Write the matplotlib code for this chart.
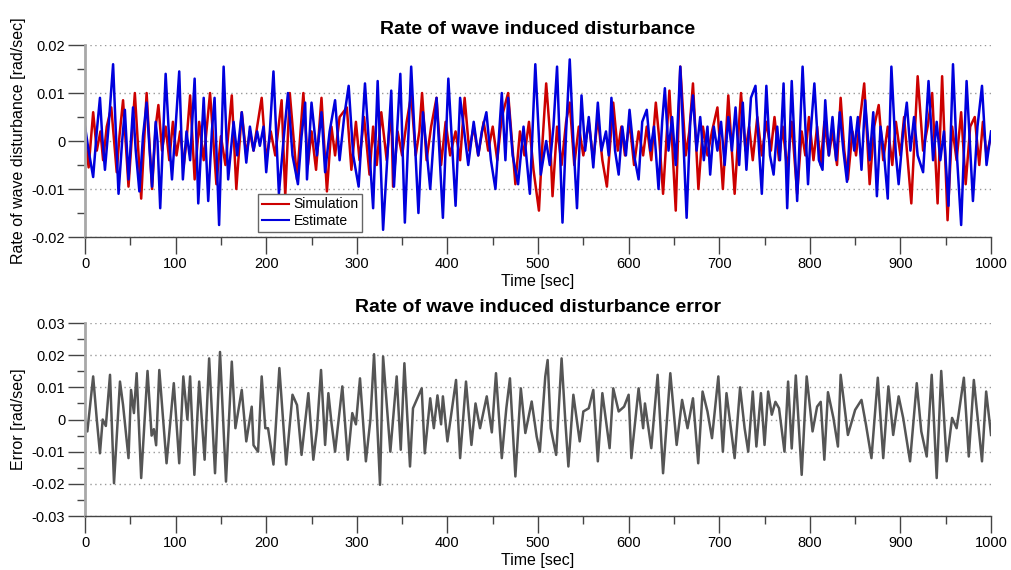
import numpy as np
import matplotlib
matplotlib.use('Agg')
import matplotlib.pyplot as plt
from matplotlib.ticker import MultipleLocator, FuncFormatter

plt.rcParams['font.family'] = ['Liberation Sans', 'DejaVu Sans']
plt.rcParams['axes.unicode_minus'] = False

# simulated rate of wave disturbance, 1e-3 rad/sec
t_sim = [0, 4, 9, 13, 17, 20, 24, 29, 35, 38, 42, 48, 55, 62, 68, 74, 78, 81, 85, 89,
         93, 97, 101, 105, 109, 112, 116, 121, 126, 131, 138, 145, 150, 155, 162, 167, 173, 178, 182, 186,
         190, 195, 200, 205, 210, 217, 221, 226, 234, 241, 246, 250, 255, 261, 267, 272, 276, 281, 289, 294,
         299, 303, 308, 314, 318, 322, 327, 333, 338, 340, 345, 350, 355, 360, 365, 369, 372, 377, 382, 388,
         393, 398, 403, 409, 414, 419, 424, 429, 434, 440, 445, 450, 455, 460, 467, 475, 480, 485, 490, 495,
         501, 505, 509, 513, 516, 521, 526, 531, 535, 540, 545, 550, 556, 561, 566, 571, 576, 583, 588, 592,
         596, 601, 606, 611, 616, 620, 625, 630, 634, 638, 645, 652, 657, 663, 667, 671, 677, 682, 687, 692,
         698, 704, 710, 717, 724, 729, 733, 737, 742, 747, 752, 757, 761, 766, 770, 775, 780, 786, 791, 795,
         799, 804, 808, 812, 816, 821, 825, 830, 834, 838, 842, 847, 851, 855, 860, 866, 871, 876, 881, 886,
         891, 895, 900, 904, 908, 912, 919, 925, 930, 935, 941, 946, 952, 957, 962, 967, 972, 977, 982, 987,
         991, 995, 1000]
sim = [1, -5.5, 6, -2, 2, -4, 3, 7, -6.5, 1, 8.5, -9.5, 10, -12, 10, -10, 3, 7.5, -2, 3,
       -4, 4, -3, 2, -5, 0, 9.5, -8, 4, -4, 10, -9, 1, -5, 9.5, -10, 6, -3, 2, -2,
       3, 9, -4, 2, -3, 8.5, -11.5, 10, -8, 10, -5, 2, -6, 9, -10.5, 3, -3, 5, 7, -6,
       4, -4, 5, -7, 3, -5, 6, -4, 7, -9.5, 2, -3, 4, 9.5, -3, 2, 10, -4, 3, 9,
       -5, 4, -3, 2, -4, 9, -2, 3, -3, 4, -2, 3, -4, 5, 10, -9, 2, -3, 4, -6,
       -14.5, 0, 12, 2, -11.5, 3, -5, 4, 8, -5, 3, -3, 4, -4, 5, -4, -9.5, 8, -2, 3,
       -3, 4, -5, 2, -3, 3, -4, 8, 0, -11, 10.5, -14.5, 15.5, -3, 2, 12, -10, 3, -3, 2,
       7, -10, 9.5, -11, 10, -2, 3, -4, 5, -3, 4, -2, 5, -4, 3, -6, 4, -11, 2, -3,
       5, -4, 3, -5, 4, -3, 2, -5, 9, -2, -8, 2, -3, 4, 12, -9, 3, 7.5, -4, 3,
       -5, 4, -3, 5, -4, -13, 13.5, -2, 3, 10, -13, 13.5, -16.5, 3, -4, 6, -9, 3, 5, -5,
       4, -3, 1]

# estimated rate of wave disturbance, 1e-3 rad/sec
t_est = [0, 4, 9, 13, 16.5, 19, 22, 26, 31, 34, 37, 41, 44, 48, 53, 56, 60, 64, 68, 71,
         74, 78, 80, 83, 89, 93, 96, 100, 104, 108, 112, 116, 121, 125, 131, 136, 140, 143, 148, 153,
         158, 164, 168, 173, 178, 182, 186, 190, 193, 197, 200, 204, 208, 214, 219, 224, 229, 235, 239, 243,
         245, 250, 256, 261, 265, 270, 276, 281, 286, 291, 296, 302, 309, 318, 323, 329, 338, 341, 348, 353,
         360, 368, 373, 381, 388, 395, 401, 409, 414, 423, 429, 434, 438, 443, 448, 453, 460, 464, 467, 472,
         478, 484, 491, 497, 503, 509, 513, 517, 521, 527, 531, 535, 539, 543, 548, 552, 556, 561, 566, 570,
         575, 578, 581, 585, 589, 593, 597, 601, 606, 611, 615, 620, 624, 628, 633, 637, 640, 644, 648, 652,
         657, 664, 668, 671, 675, 679, 683, 687, 690, 694, 698, 702, 706, 710, 714, 718, 722, 726, 730, 735,
         740, 744, 747, 752, 756, 760, 764, 767, 771, 775, 780, 786, 792, 798, 801, 805, 810, 814, 817, 821,
         825, 829, 833, 837, 841, 845, 849, 853, 857, 861, 866, 870, 874, 878, 882, 886, 890, 895, 898, 903,
         907, 911, 915, 919, 925, 931, 936, 940, 944, 948, 953, 958, 962, 967, 973, 977, 980, 985, 990, 995,
         1000]
est = [3, -2, -7.5, 2, 9, 1, -6, 3, 16, 2, -11, 0, 6.5, -8, 7, -2, -10.5, 1, 8, -1,
       -9.5, 4, 0, -14, 14, 0, -8, 3, 14.5, -8, 2, -4, 13, -13, 9, -12.5, 2, 9, -17.5, 15.5,
       -8, 4, -3, 6, -4.5, 3, -2, 2, -1, 3, -6.5, 2, 14.5, -11, 0, 10, -3, -9, 1, 8,
       -8, 8, -3, 6, -6.5, 2, 8.5, -4, 5, 11.5, -3, -9.5, 12, -14, 12.5, -18.5, 10.5, -9.5, 14, -17,
       15.5, -15, 6, -10, 9, -16, 13, -13.5, 9, -5, 4, -3, 2, 6, -4, -10, 10, -4, 9, -3,
       -9, 3, -11, 16, -7, 0, -5, 3, 15.5, -17, 2, 17, 0, -14, 9.5, -2, 5, -5.5, 8, -2,
       2, -3, 9, -2, -7, 3, -3, 6.5, -3, -8, 4, 6.5, -2, 3, -10, 4, 11, -2, 5, -5,
       15.5, -16, 4, 9.5, -2, 5, -4, 3, -7, 3, -2, 4, -5, 5, -2, 7, -5, 8, -6, 9,
       11.5, -2, -11, 11.5, -3, -7, 3, -4, 12, -14, 12.5, -12.5, 15.5, -9, 2, 12, -4, -6, 8.5, -3,
       5, -4, 6, -2, -8.5, 5, -2, 5, -6, 8.5, -4, 6, -11.5, 3, -3, -12, 15.5, -3, -9, 2,
       8, -2, 5, -3, -6.5, 12.5, -4, 4, -4, 2, -13.5, 16, -2, -17.5, 12.5, -2, -12.5, 3, 11.5, -5,
       2]

# estimation error, 1e-3 rad/sec
t_err = [0, 2.6, 9, 13, 16.5, 19.5, 23, 27.6, 32, 38.6, 42, 48, 50.8, 54, 57, 62, 69, 73.5, 76, 78.5,
         82, 90, 98, 104, 108.5, 113, 116, 120.7, 126, 132, 137, 143.5, 149, 155.6, 162, 166, 173, 178, 184, 186,
         191, 195, 199, 202, 208, 214.5, 222, 229, 234, 239, 246.5, 252, 256, 260.5, 265, 268.6, 272, 276, 280, 284,
         290, 295, 299, 303.5, 310, 315, 319, 325.6, 329, 337, 340, 344, 348.5, 352.5, 358.7, 362, 371.6, 375, 381, 385,
         389, 393, 395, 400, 409.5, 414, 420.5, 426.5, 431, 436, 443.4, 449, 453.6, 460, 465, 469, 475, 481, 486, 493,
         498.5, 502, 508, 510.6, 514, 520, 526, 530, 533.5, 539, 546, 550, 556, 561, 566, 571, 579, 583, 589, 595,
         600, 603, 611, 616, 618, 625, 632, 638, 646, 653, 659, 665, 671, 676.8, 681.6, 687, 692, 699, 704, 708,
         717, 723, 728, 732, 737, 741, 746, 750, 754, 758, 762, 766, 772, 776, 780, 784.5, 791, 796.5, 803, 808,
         812, 816, 820, 826, 831, 834, 842, 850, 857, 862, 868, 875, 881, 886.7, 892, 898, 903, 910.6, 918, 923,
         929, 934.5, 940, 945, 951, 957, 962, 970, 975.4, 981, 990, 994.6, 1000]
err = [0, -3.7, 13.4, 0, -10.5, 0, -2, 13.9, -19.8, 11.8, 4.5, -12, 9.2, 2, 14.4, -18.2, 15.1, -5, -3, -8,
       15.4, -13.6, 11.3, -13.6, 13.4, 0, 13.4, -17.2, 11.8, -12.5, 19, -16.7, 21, -19.3, 18, -2.7, 9.2, -6.8, 4, -8,
       -10, 13.4, -2.7, -2.7, -14, 16, -14, 7.7, 4.5, -11, 8.2, -12.5, -3, 15.4, -7.9, 8.2, -1, -10, 0, 10.3,
       -12.5, 2, -1.5, 12.8, -13, 0, 20.3, -20.3, 19.6, -10, 0, 13.4, -9.4, 17.5, -14.6, 3.5, 9.7, -10.5, 6.6, -2.7,
       7.5, -1.5, 7.2, -6.8, 12.3, -12, 11.8, -7.9, 5, -2.7, 7.2, -4, 14.4, -12, 3.5, 12.8, -17.7, 9.7, -4.2, 5.6,
       -5.3, -10, 13.4, 18.5, -2.7, -11, 19, 0, -14.6, 7.7, -6.8, 2.5, 3.5, 9.2, -13, 8.2, -8.9, 9.7, 2.5, 4,
       7.7, -12, 9.7, -2.7, 5, -8.9, 13.9, -16.7, 14.4, -7.9, 6.1, -2.7, 6.6, -13.6, 8.7, 2.5, -5.8, 13.4, -10, 8.2,
       -12, 10, -2.7, -10, 8.7, -8.4, 8.2, -7.9, 8.7, 1.5, 5.5, 3.5, -10, 11.8, -9, 13.7, -17.2, 13.4, -3.7, 4,
       5.5, -12.5, 8.5, 0.5, -8.4, 13.9, -4.8, 3, 6.1, -1.7, -12, 13, -12, 10.3, -4.8, 7.2, 0.5, -13, 11.3, -3.7,
       -11.5, 13.9, -18.2, 15.1, -13, 0.5, -2.7, 13, -11.5, 12.3, -13, 8.7, -4.8]

t_sim, t_est, t_err = np.array(t_sim), np.array(t_est), np.array(t_err)
sim, est, err = np.array(sim) * 1e-3, np.array(est) * 1e-3, np.array(err) * 1e-3

fig = plt.figure(figsize=(10.12, 5.70), dpi=100)
ax1 = fig.add_axes([0.084, 0.5842, 0.8953, 0.3368])
ax2 = fig.add_axes([0.084, 0.0947, 0.8953, 0.3386])

fmt = FuncFormatter(lambda v, p: '%g' % round(v, 4))

for ax, lim in [(ax1, 0.02), (ax2, 0.03)]:
    ax.set_xlim(0, 1000)
    ax.set_ylim(-lim, lim)
    for s in ['top', 'right']:
        ax.spines[s].set_visible(False)
    ax.spines['left'].set_color('#a8a8a8')
    ax.spines['left'].set_linewidth(2)
    ax.spines['bottom'].set_color('#444444')
    ax.spines['bottom'].set_linewidth(1)
    ax.xaxis.set_major_locator(MultipleLocator(100))
    ax.xaxis.set_minor_locator(MultipleLocator(50))
    ax.yaxis.set_major_locator(MultipleLocator(0.01))
    ax.yaxis.set_minor_locator(MultipleLocator(0.005))
    ax.yaxis.set_major_formatter(fmt)
    ax.tick_params(which='major', length=12.2, width=1, color='#444444', labelsize=10.5, pad=2)
    ax.tick_params(which='minor', length=5.8, width=1, color='#444444')
    ax.grid(axis='y', which='major', color='#999999', linestyle=(0, (1, 2.5)), linewidth=1)
    ax.set_xlabel('Time [sec]', fontsize=11.5, labelpad=2)

ax1.plot(t_sim, sim, color='#cc0000', linewidth=1.8, solid_joinstyle='round', label='Simulation')
ax1.plot(t_est, est, color='#0000dd', linewidth=1.8, solid_joinstyle='round', label='Estimate')
ax1.set_title('Rate of wave induced disturbance', fontsize=14, fontweight='bold', pad=8)
ax1.set_ylabel('Rate of wave disturbance [rad/sec]', fontsize=11.5, labelpad=4)
leg = ax1.legend(loc='upper left', bbox_to_anchor=(0.191, 0.224), borderaxespad=0, fontsize=10,
                 frameon=True, fancybox=False, framealpha=1, edgecolor='#666666',
                 handlelength=2.0, handletextpad=0.3, borderpad=0.25, labelspacing=0.2)
leg.get_frame().set_linewidth(1)
for h in leg.get_lines():
    h.set_linewidth(1.5)

ax2.plot(t_err, err, color='#555555', linewidth=1.8, solid_joinstyle='round')
ax2.set_title('Rate of wave induced disturbance error', fontsize=14, fontweight='bold', pad=8)
ax2.set_ylabel('Error [rad/sec]', fontsize=11.5, labelpad=4)

plt.savefig('out.png', dpi=100)
